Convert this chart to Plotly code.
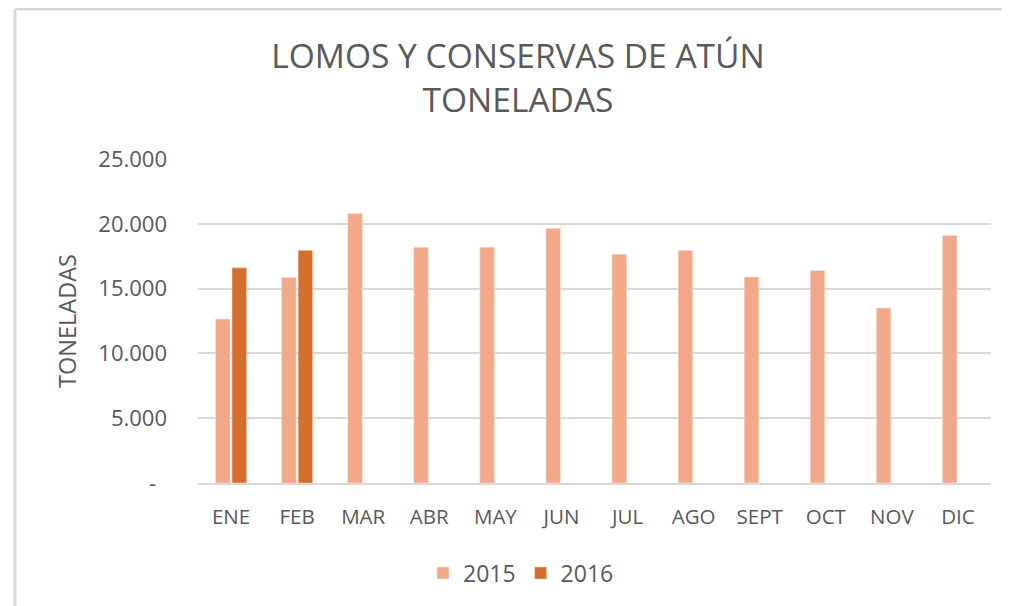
import plotly.graph_objects as go

months = ["ENE", "FEB", "MAR", "ABR", "MAY", "JUN", "JUL", "AGO", "SEPT", "OCT", "NOV", "DIC"]
values_2015 = [12650, 15850, 20800, 18200, 18200, 19650, 17650, 17950, 15900, 16400, 13500, 19100]
values_2016 = [16600, 17950, None, None, None, None, None, None, None, None, None, None]
tick_vals = [0, 5000, 10000, 15000, 20000, 25000]
tick_text = ["-\u2002", "5.000", "10.000", "15.000", "20.000", "25.000"]

FONT = "Open Sans"
GRAY = "#595959"

fig = go.Figure()
fig.add_trace(go.Bar(name="2015", x=months, y=values_2015,
                     marker=dict(color="#F1A98A", line=dict(color="#FBE3D8", width=0.6))))
fig.add_trace(go.Bar(name="2016", x=months, y=values_2016,
                     marker=dict(color="#D46E2A", line=dict(color="#F3D2BE", width=0.6))))

# the page body adds an 8px offset; positions below are in figure coordinates
OFF = 8
W, H = 1010, 606
ml, mt = 198 - OFF, 159 - OFF
pw, ph = 793, 324
mr = W - ml - pw
mb = H - mt - ph

def px_x(p):
    return (p - OFF - ml) / pw

def px_y(p):
    return (mt + ph - (p - OFF)) / ph

fig.update_layout(
    width=W, height=H,
    margin=dict(l=ml, r=mr, t=mt, b=mb),
    paper_bgcolor="white", plot_bgcolor="white",
    barmode="group", bargap=0.5, bargroupgap=0.12,
    title=dict(text="LOMOS Y CONSERVAS DE ATÚN<br>TONELADAS",
               x=(518 - OFF) / W, xref="container", xanchor="center",
               y=1 - (68 - OFF) / H, yref="container", yanchor="middle",
               font=dict(family=FONT, size=33.5, color=GRAY)),
    font=dict(family=FONT, color=GRAY),
    legend=dict(orientation="h", x=px_x(521), xanchor="center",
                y=px_y(573), yanchor="middle",
                font=dict(family=FONT, size=23, color=GRAY),
                itemwidth=30, traceorder="normal"),
    xaxis=dict(showgrid=False, showline=True, linecolor="#D9D9D9", linewidth=2,
               tickfont=dict(family=FONT, size=20.5, color=GRAY),
               ticks="", ticklabelstandoff=14, fixedrange=True),
    yaxis=dict(range=[0, 25000], tickvals=tick_vals, ticktext=tick_text,
               showgrid=True, gridcolor="#D9D9D9", gridwidth=2,
               zeroline=False, showline=False,
               tickfont=dict(family=FONT, size=22, color=GRAY),
               ticklabelstandoff=30,
               title=dict(text="TONELADAS", standoff=15,
                          font=dict(family=FONT, size=23.5, color=GRAY))),
)

# chart frame (partially visible in the reference)
fig.add_shape(type="line", xref="paper", yref="paper",
              x0=px_x(15), x1=px_x(W + 20), y0=px_y(9), y1=px_y(9),
              line=dict(color="#D9D9D9", width=3))
fig.add_shape(type="line", xref="paper", yref="paper",
              x0=px_x(15), x1=px_x(15), y0=px_y(9), y1=px_y(H + 20),
              line=dict(color="#D9D9D9", width=3))

fig.write_html("out.html")
